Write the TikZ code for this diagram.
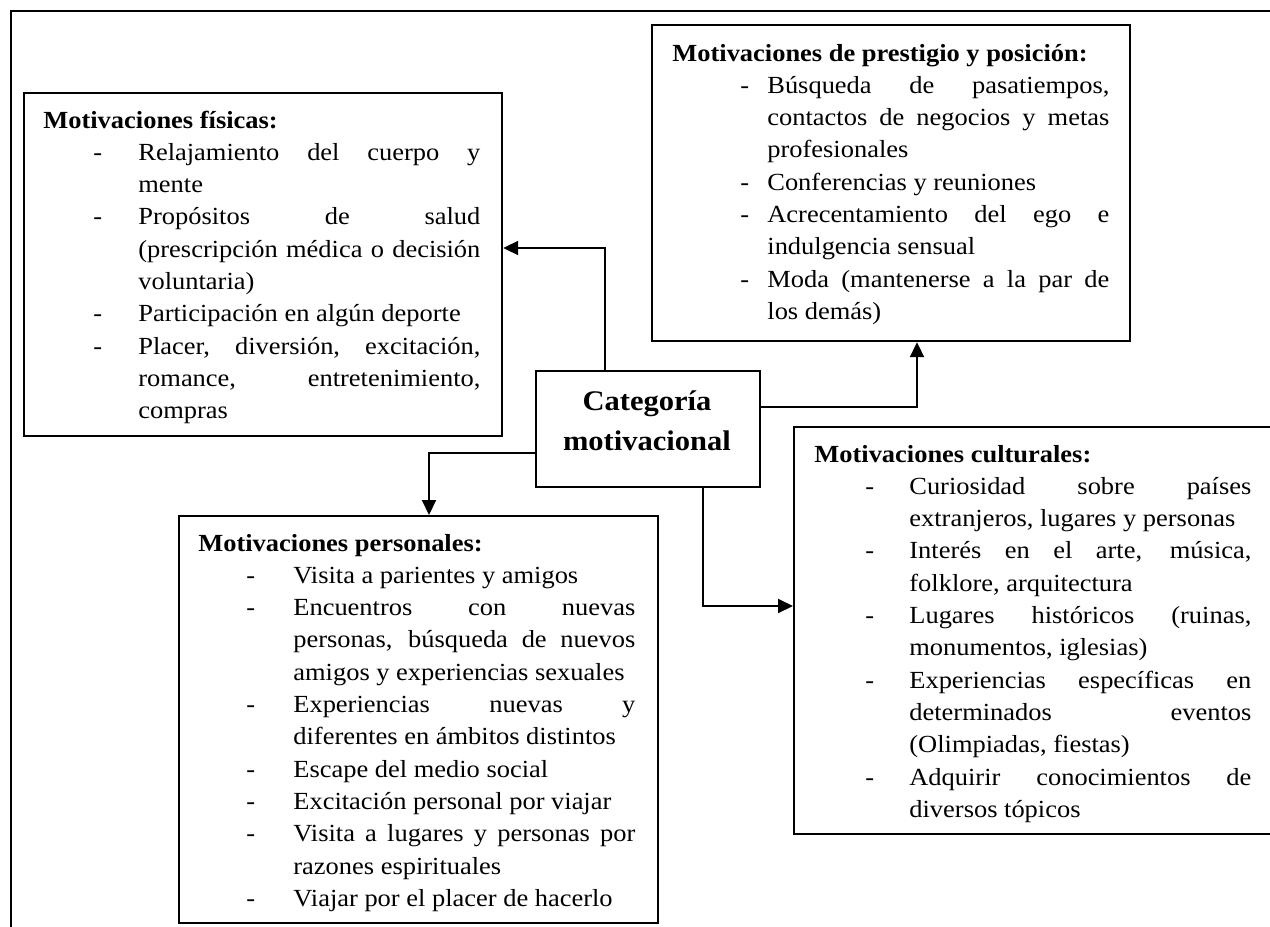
\documentclass[tikz,border=0pt]{standalone}
\usepackage{fontspec}
\setmainfont[FakeStretch=1.075]{Liberation Serif}
\usetikzlibrary{arrows.meta}

% layout of the bulleted lists: indent of the text column, its width, dash position
\newlength\colw   \setlength\colw{171pt}
\newlength\indw   \setlength\indw{47.5pt}
\newlength\dashpos \setlength\dashpos{25pt}
\newcommand\hd[1]{\hbox{\bfseries #1}}
% item lines: J = justified to the column, R = ragged (last line of an item)
\newcommand\itJ[1]{\hbox{\makebox[\indw][l]{\hspace*{\dashpos}-}\makebox[\colw][s]{#1}}}
\newcommand\itR[1]{\hbox{\makebox[\indw][l]{\hspace*{\dashpos}-}#1}}
\newcommand\coJ[1]{\hbox{\hspace*{\indw}\makebox[\colw][s]{#1}}}
\newcommand\coR[1]{\hbox{\hspace*{\indw}#1}}
\newcommand\listfont{\fontsize{12.3}{16.15}\selectfont}

\tikzset{
  panel/.style={draw, line width=1.1pt, inner sep=0pt, anchor=north west},
  conn/.style={line width=1pt, -{Triangle[length=7.5pt,width=7pt]}},
  listtext/.style={anchor=base west, inner sep=0pt, font=\listfont},
  frameline/.style={line width=1.1pt},
}

\begin{document}
\begin{tikzpicture}[x=0.5pt, y=-0.5pt]
\useasboundingbox (0,0) rectangle (1270,927);
\fill[white] (0,0) rectangle (1270,927);

% outer frame (top and left edges)
\draw[frameline] (11,930) -- (11,11) -- (1275,11);

% boxes
\node[panel, minimum width=239pt,   minimum height=171.5pt] (fis) at (23,92) {};
\node[panel, minimum width=239pt,   minimum height=158pt]   (pre) at (651,24) {};
\node[panel, minimum width=112pt,   minimum height=58pt]    (cat) at (535,370) {};
\node[panel, minimum width=239.5pt, minimum height=203.5pt] (cul) at (793,426) {};
\node[panel, minimum width=239.5pt, minimum height=203.5pt] (per) at (178,515) {};

% central label
\node[anchor=base, inner sep=0pt, font=\fontsize{14.2}{20.35}\selectfont\bfseries] (cattx) at (647,410)
  {\parbox[t]{110pt}{\centering Categoría\\motivacional}};

% physical motivations
\node[listtext] (fistx) at (43,128) {\parbox[t]{236pt}{\setlength\dashpos{25pt}%
  \hd{Motivaciones físicas:}
  \itJ{Relajamiento del cuerpo y}
  \coR{mente}
  \itJ{Propósitos de salud}
  \coJ{(prescripción médica o decisión}
  \coR{voluntaria)}
  \itR{Participación en algún deporte}
  \itJ{Placer, diversión, excitación,}
  \coJ{romance, entretenimiento,}
  \coR{compras}}};

% prestige and status motivations
\node[listtext] (pretx) at (672,61) {\parbox[t]{236pt}{\setlength\dashpos{34pt}%
  \hd{Motivaciones de prestigio y posición:}
  \itJ{Búsqueda de pasatiempos,}
  \coJ{contactos de negocios y metas}
  \coR{profesionales}
  \itR{Conferencias y reuniones}
  \itJ{Acrecentamiento del ego e}
  \coR{indulgencia sensual}
  \itJ{Moda (mantenerse a la par de}
  \coR{los demás)}}};

% cultural motivations
\node[listtext] (cultx) at (814,462) {\parbox[t]{236pt}{\setlength\dashpos{25.5pt}%
  \hd{Motivaciones culturales:}
  \itJ{Curiosidad sobre países}
  \coR{extranjeros, lugares y personas}
  \itJ{Interés en el arte, música,}
  \coR{folklore, arquitectura}
  \itJ{Lugares históricos (ruinas,}
  \coR{monumentos, iglesias)}
  \itJ{Experiencias específicas en}
  \coJ{determinados eventos}
  \coR{(Olimpiadas, fiestas)}
  \itJ{Adquirir conocimientos de}
  \coR{diversos tópicos}}};

% personal motivations
\node[listtext] (pertx) at (198,551) {\parbox[t]{236pt}{\setlength\dashpos{24pt}%
  \hd{Motivaciones personales:}
  \itR{Visita a parientes y amigos}
  \itJ{Encuentros con nuevas}
  \coJ{personas, búsqueda de nuevos}
  \coR{amigos y experiencias sexuales}
  \itJ{Experiencias nuevas y}
  \coR{diferentes en ámbitos distintos}
  \itR{Escape del medio social}
  \itR{Excitación personal por viajar}
  \itJ{Visita a lugares y personas por}
  \coR{razones espirituales}
  \itR{Viajar por el placer de hacerlo}}};

% elbow points of the connectors
\coordinate (k1) at (605,248);
\coordinate (k2) at (917,407);
\coordinate (k3) at (429,453);
\coordinate (k4) at (703,606);

\draw[conn] (cat.north -| k1) |- (fis.east |- k1);
\draw[conn] (cat.east |- k2) -| (pre.south -| k2);
\draw[conn] (cat.west |- k3) -| (per.north -| k3);
\draw[conn] (cat.south -| k4) |- (cul.west |- k4);
\end{tikzpicture}
\end{document}
